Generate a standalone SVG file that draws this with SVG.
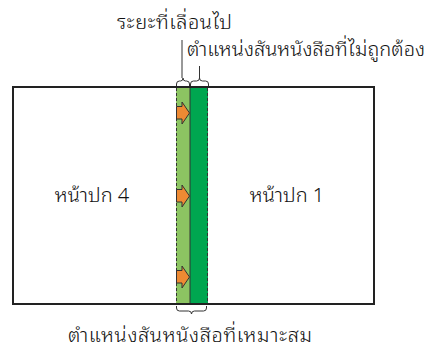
<svg xmlns="http://www.w3.org/2000/svg" width="435" height="349" viewBox="0 0 435 349">
<style>
text{font-family:"Noto Sans Thai Looped","Noto Sans Thai","Noto Sans","DejaVu Sans",sans-serif;font-size:20px;font-weight:350;fill:#111}
.ln{fill:none;stroke:#333;stroke-width:1}
.arr{fill:#ee8a33;stroke:#333;stroke-width:1;stroke-linejoin:miter}
</style>
<rect width="435" height="349" fill="#fff"/>
<g id="page">
<rect x="13" y="87" width="361" height="217" fill="#fff" stroke="#222" stroke-width="2"/>
</g>
<g id="strip">
<rect x="176" y="88" width="14" height="215" fill="#8cc462"/>
<rect x="190" y="88" width="18" height="215" fill="#00a650"/>
<line x1="176.5" y1="88" x2="176.5" y2="303" stroke="#333" stroke-width="1" stroke-dasharray="3,2"/>
<line x1="207.5" y1="88" x2="207.5" y2="303" stroke="#333" stroke-width="1" stroke-dasharray="3,2"/>
<line x1="190" y1="88" x2="190" y2="303" stroke="#333" stroke-width="1"/>
</g>
<g id="arrows">
<path class="arr" d="M176.5,106.5 h5.5 v-4.5 l7.5,11 l-7.5,11 v-5 h-5.5 z"/>
<path class="arr" d="M176.5,189.5 h5.5 v-4.5 l7.5,11 l-7.5,11 v-5 h-5.5 z"/>
<path class="arr" d="M176.5,270.5 h5.5 v-4.5 l7.5,11 l-7.5,11 v-5 h-5.5 z"/>
</g>
<g id="connectors">
<path class="ln" d="M176.5,86 v-2 q0,-3 3,-3 h1 q2.5,0 2.5,-3 q0,3 2.5,3 h1 q3,0 3,3 v2"/>
<path class="ln" d="M190.5,86 v-2 q0,-3 3,-3 h3 q3,0 3,-3 q0,3 3,3 h3 q3,0 3,3 v2"/>
<line class="ln" x1="182" y1="78" x2="182" y2="40"/>
<line class="ln" x1="199.5" y1="78" x2="199.5" y2="66"/>
<path class="ln" d="M176.5,306 v2 q0,3 3,3 h9 q3,0 3,3 q0,-3 3,-3 h9 q3,0 3,-3 v-2"/>
</g>
<g id="labels">
<text x="117" y="29" textLength="115">ระยะที่เลื่อนไป</text>
<text x="187" y="56" textLength="238">ตำแหน่งสันหนังสือที่ไม่ถูกต้อง</text>
<text x="92" y="202" text-anchor="middle">หน้าปก 4</text>
<text x="287" y="202" text-anchor="middle">หน้าปก 1</text>
<text x="190" y="342" text-anchor="middle" textLength="244">ตำแหน่งสันหนังสือที่เหมาะสม</text>
</g>
</svg>
